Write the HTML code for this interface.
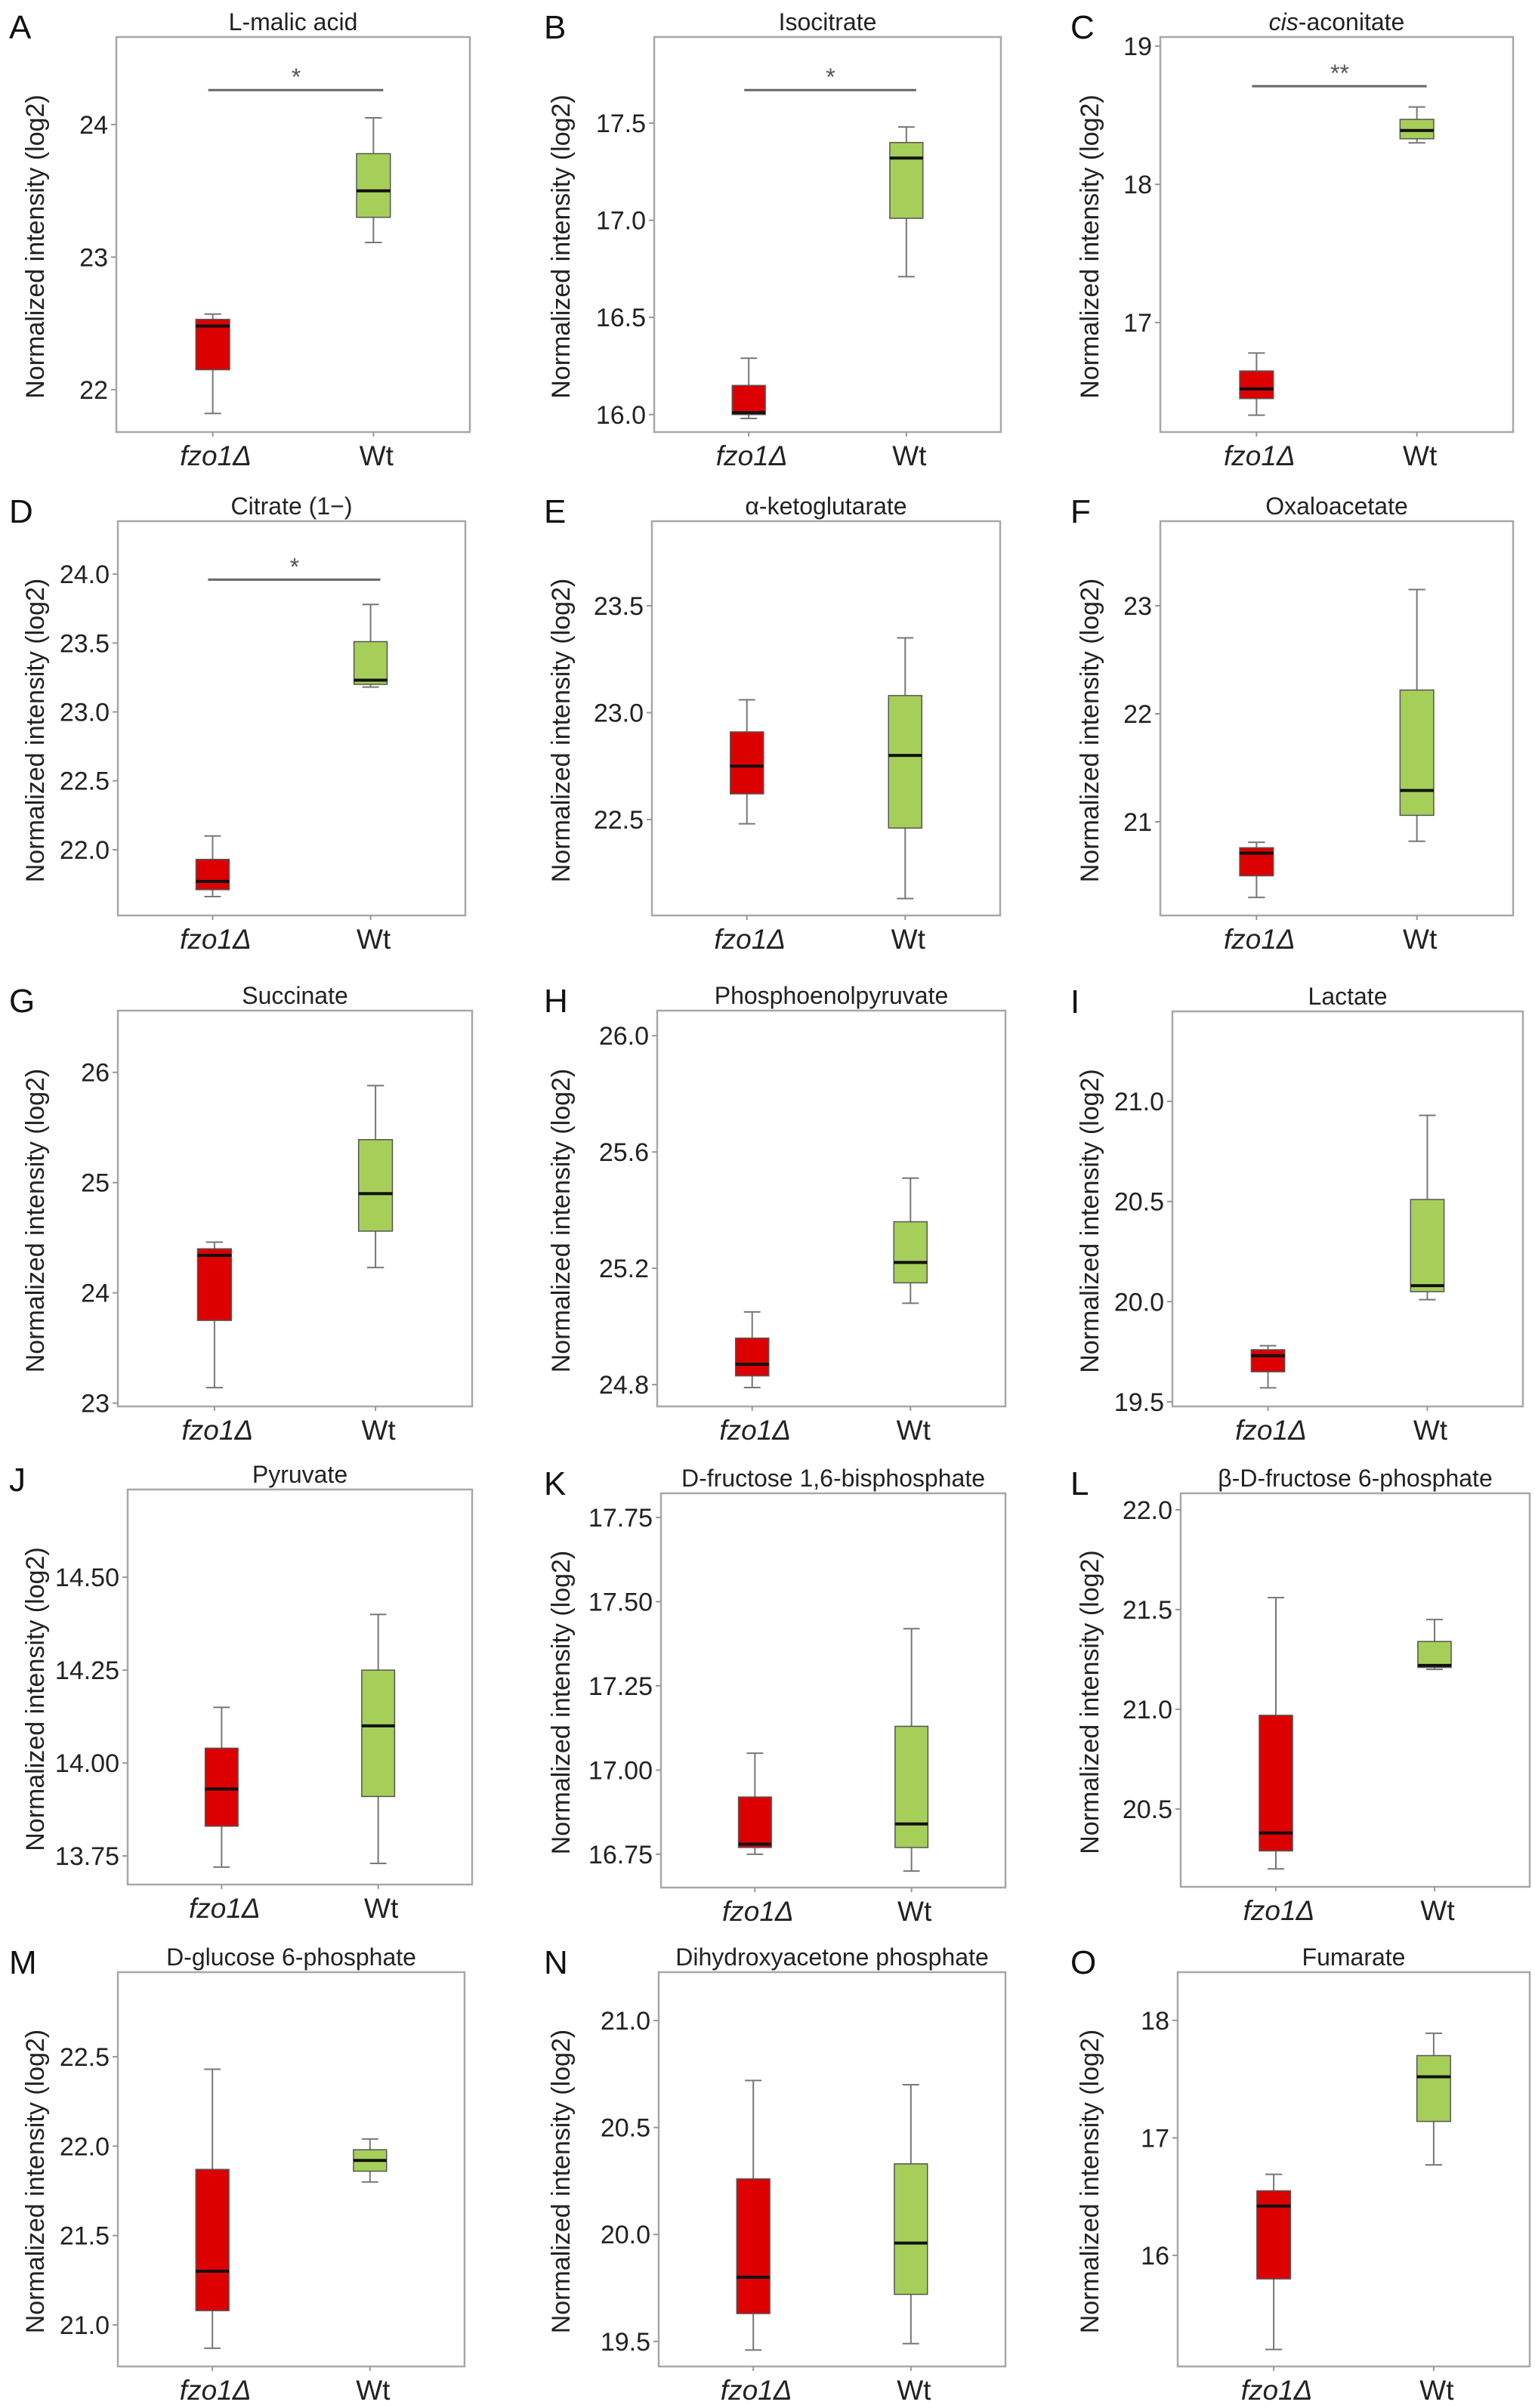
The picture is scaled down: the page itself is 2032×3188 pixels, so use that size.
<!DOCTYPE html>
<html><head><meta charset="utf-8">
<style>
html,body{margin:0;padding:0;background:#fff;}
svg{display:block;font-family:"Liberation Sans",Arial,sans-serif;}
</style></head>
<body>
<svg id="fig" xmlns="http://www.w3.org/2000/svg" width="2032" height="3188" viewBox="0 0 2032 3188"></svg>
<script>
// ---- data ----
const panelLetters = ["A","B","C","D","E","F","G","H","I","J","K","L","M","N","O"];
const panelTitles = ["L-malic acid","Isocitrate","cis-aconitate","Citrate (1\u2212)","\u03b1-ketoglutarate","Oxaloacetate","Succinate","Phosphoenolpyruvate","Lactate","Pyruvate","D-fructose 1,6-bisphosphate","\u03b2-D-fructose 6-phosphate","D-glucose 6-phosphate","Dihydroxyacetone phosphate","Fumarate"];
const categories = ["fzo1\u0394","Wt"];
// [low whisker, q1, median, q3, high whisker]
const fzo1Stats = [
 [21.82,22.15,22.48,22.53,22.57],
 [15.98,16.00,16.01,16.15,16.29],
 [16.33,16.45,16.52,16.65,16.78],
 [21.66,21.71,21.77,21.93,22.10],
 [22.48,22.62,22.75,22.91,23.06],
 [20.30,20.50,20.71,20.76,20.81],
 [23.14,23.75,24.34,24.40,24.46],
 [24.79,24.83,24.87,24.96,25.05],
 [19.57,19.65,19.73,19.76,19.78],
 [13.72,13.83,13.93,14.04,14.15],
 [16.75,16.77,16.78,16.92,17.05],
 [20.20,20.29,20.38,20.97,21.56],
 [20.87,21.08,21.30,21.87,22.43],
 [19.46,19.63,19.80,20.26,20.72],
 [15.20,15.80,16.42,16.55,16.69]
];
const wtStats = [
 [23.11,23.30,23.50,23.78,24.05],
 [16.71,17.01,17.32,17.40,17.48],
 [18.30,18.33,18.39,18.47,18.56],
 [23.18,23.20,23.23,23.51,23.78],
 [22.13,22.46,22.80,23.08,23.35],
 [20.82,21.06,21.29,22.22,23.15],
 [24.23,24.56,24.90,25.39,25.88],
 [25.08,25.15,25.22,25.36,25.51],
 [20.01,20.05,20.08,20.51,20.93],
 [13.73,13.91,14.10,14.25,14.40],
 [16.70,16.77,16.84,17.13,17.42],
 [21.20,21.21,21.22,21.34,21.45],
 [21.80,21.86,21.92,21.98,22.04],
 [19.49,19.72,19.96,20.33,20.70],
 [16.77,17.14,17.52,17.70,17.89]
];
const yDomains = [
 [21.68,24.66],[15.91,17.943],[16.208,19.066],
 [21.523,24.384],[22.051,23.896],[20.133,23.783],
 [22.97,26.56],[24.725,26.086],[19.477,21.449],
 [13.673,14.736],[16.651,17.822],[20.11,22.083],
 [20.768,22.973],[19.383,21.226],[15.055,18.41]
];
const tickValues = [
 [22,23,24],[16,16.5,17,17.5],[17,18,19],
 [22,22.5,23,23.5,24],[22.5,23,23.5],[21,22,23],
 [23,24,25,26],[24.8,25.2,25.6,26],[19.5,20,20.5,21],
 [13.75,14,14.25,14.5],[16.75,17,17.25,17.5,17.75],[20.5,21,21.5,22],
 [21,21.5,22,22.5],[19.5,20,20.5,21],[16,17,18]
];
const tickLabels = [
 ["22","23","24"],["16.0","16.5","17.0","17.5"],["17","18","19"],
 ["22.0","22.5","23.0","23.5","24.0"],["22.5","23.0","23.5"],["21","22","23"],
 ["23","24","25","26"],["24.8","25.2","25.6","26.0"],["19.5","20.0","20.5","21.0"],
 ["13.75","14.00","14.25","14.50"],["16.75","17.00","17.25","17.50","17.75"],["20.5","21.0","21.5","22.0"],
 ["21.0","21.5","22.0","22.5"],["19.5","20.0","20.5","21.0"],["16","17","18"]
];
const sigLevels = [24.26,17.67,18.71,23.96,null,null,null,null,null,null,null,null,null,null,null];
const sigLabels = ["*","*","**","*","","","","","","","","","","",""];

// ---- layout (pixels) ----
const frames = [
 [154,622,49,572],[866,1325,49,572],[1536,2003,49,572],
 [156,616,690,1212],[863,1324,690,1212],[1536,2003,690,1212],
 [156,625,1338,1862],[870,1331,1338,1862],[1552,2016,1339,1862],
 [169,625,1972,2495],[875,1331,1977,2499],[1563,2025,1977,2498],
 [156,615,2611,3133],[872,1331,2611,3133],[1559,2025,2611,3133]
];
const colLetterX = [12,720,1417];
const colTitleX = [46,742,1442];

const NS = "http://www.w3.org/2000/svg";
const svg = document.getElementById("fig");
function mk(tag, attrs, parent, text){
  const e = document.createElementNS(NS, tag);
  for (const k in attrs) e.setAttribute(k, attrs[k]);
  if (text !== undefined) e.textContent = text;
  (parent||svg).appendChild(e);
  return e;
}

for (let p = 0; p < 15; p++){
  const [x0,x1,y0,y1] = frames[p];
  const [lo,hi] = yDomains[p];
  const col = p % 3;
  const yS = v => y1 - (v - lo) / (hi - lo) * (y1 - y0);
  const unit = (x1 - x0) / 2.2;
  const xS = i => x0 + (0.6 + i) * unit;

  const g = mk("g", {});
  
  

  const letter = mk("text", {x: colLetterX[col], y: y0 + 2, "font-size": 44, fill: "#111"}, g, panelLetters[p]);
  
  

  const title = mk("text", {x: (x0 + x1) / 2, y: y0 - 9, "font-size": 32, fill: "#222", "text-anchor": "middle"}, g);
  
  
  if (panelTitles[p] === "cis-aconitate"){
    mk("tspan", {"font-style": "italic"}, title, "cis");
    mk("tspan", {}, title, "-aconitate");
  } else {
    title.textContent = panelTitles[p];
  }

  const frame = mk("rect", {x: x0, y: y0, width: x1 - x0, height: y1 - y0, fill: "none", stroke: "#a8a8a8", "stroke-width": 2.5}, g);
  
  

  const ty = (y0 + y1) / 2 + 16;
  const yt = mk("text", {x: colTitleX[col], y: ty, "font-size": 34, fill: "#222", "text-anchor": "middle", transform: "rotate(-90 " + colTitleX[col] + " " + ty + ")", dy: "0.35em"}, g, "Normalized intensity (log2)");
  
  

  tickValues[p].forEach((v, k) => {
    const yy = yS(v);
    const tk = mk("line", {x1: x0 - 7, x2: x0, y1: yy, y2: yy, stroke: "#999", "stroke-width": 2}, g);
    
    
    const tl = mk("text", {x: x0 - 11, y: yy + 12, "font-size": 34, fill: "#222", "text-anchor": "end"}, g, tickLabels[p][k]);
    
    
  });

  categories.forEach((c, i) => {
    const cx = xS(i);
    const tk = mk("line", {x1: cx, x2: cx, y1: y1, y2: y1 + 6, stroke: "#999", "stroke-width": 2}, g);
    
    
    const xl = mk("text", {x: cx + 4, y: y1 + 44, "font-size": 37, fill: "#222", "text-anchor": "middle", "font-style": i === 0 ? "italic" : "normal"}, g, c);
    
    

    const s = i === 0 ? fzo1Stats[p] : wtStats[p];
    const fill = i === 0 ? "#dd0000" : "#a6cf5a";
    const bw = unit * 0.21, cw = unit * 0.105;
    const wh = mk("line", {x1: cx, x2: cx, y1: yS(s[0]), y2: yS(s[4]), stroke: "#777", "stroke-width": 2}, g);
    
    
    [s[0], s[4]].forEach(v => {
      const cap = mk("line", {x1: cx - cw / 2, x2: cx + cw / 2, y1: yS(v), y2: yS(v), stroke: "#777", "stroke-width": 2}, g);
      
      
    });
    const bx = mk("rect", {x: cx - bw / 2, y: yS(s[3]), width: bw, height: Math.max(1, yS(s[1]) - yS(s[3])), fill: fill, stroke: "#555", "stroke-width": 1.5}, g);
    
    
    const md = mk("line", {x1: cx - bw / 2, x2: cx + bw / 2, y1: yS(s[2]), y2: yS(s[2]), stroke: "#111", "stroke-width": 4}, g);
    
    
  });

  if (sigLevels[p] !== null){
    const sy = yS(sigLevels[p]);
    const bar = mk("line", {x1: xS(0) - 6, x2: xS(1) + 13, y1: sy, y2: sy, stroke: "#666", "stroke-width": 3}, g);
    
    
    const st = mk("text", {x: (xS(0) + xS(1)) / 2 + 4, y: sy - 6, "font-size": 32, fill: "#555", "text-anchor": "middle"}, g, sigLabels[p]);
    
    
  }
}
</script>
</body></html>
